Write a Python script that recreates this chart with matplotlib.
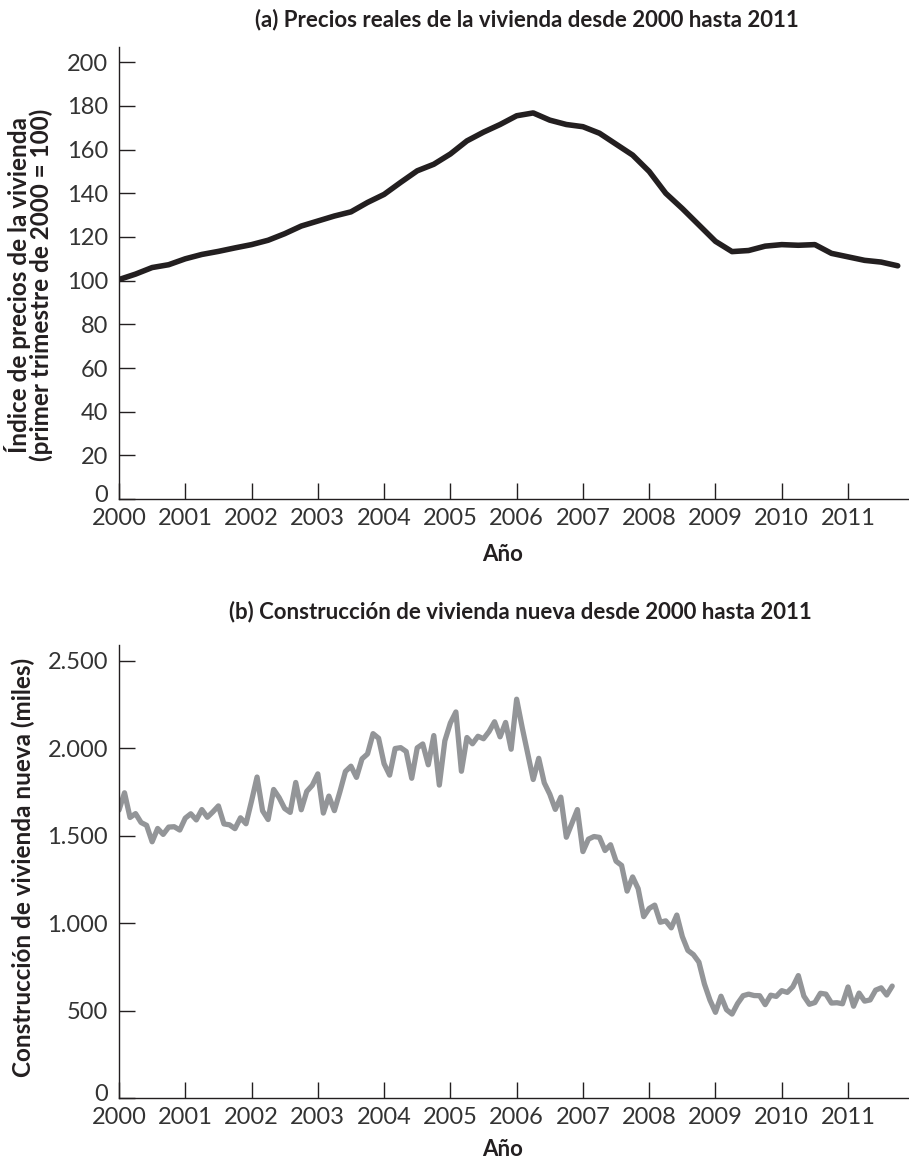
import matplotlib
matplotlib.use("Agg")
import matplotlib.pyplot as plt
import matplotlib.transforms as mtransforms
import numpy as np

# (a) indice real de precios de la vivienda, trimestral 2000T1 - 2011T4
precios = [100.5, 103, 106, 107.3, 110, 112, 113.4, 115, 116.5, 118.5,
           121.5, 125, 127.3, 129.6, 131.5, 135.8, 139.5, 145, 150.3, 153.3,
           158, 164, 168, 171.5, 175.5, 176.8, 173.5, 171.5, 170.5, 167.5,
           162.5, 157.5, 150, 140, 133, 125.5, 118, 113.3, 113.8, 115.8,
           116.5, 116.2, 116.5, 112.5, 110.9, 109.3, 108.5, 106.8]

# (b) construccion de vivienda nueva (miles), mensual ene 2000 - sep 2011
inicios = [1646, 1745, 1604, 1626, 1575, 1559, 1465, 1541, 1507, 1549, 1551, 1532,
           1600, 1625, 1590, 1649, 1605, 1636, 1670, 1567, 1562, 1540, 1602, 1568,
           1698, 1835, 1642, 1592, 1764, 1717, 1655, 1633, 1804, 1648, 1753, 1788,
           1853, 1629, 1726, 1643, 1751, 1867, 1897, 1833, 1939, 1967, 2083, 2057,
           1911, 1846, 1998, 2003, 1981, 1828, 2002, 2024, 1905, 2072, 1789, 2042,
           2144, 2207, 1868, 2061, 2025, 2068, 2054, 2095, 2151, 2065, 2147, 1994,
           2280, 2119, 1969, 1821, 1942, 1802, 1737, 1650, 1720, 1491, 1570, 1649,
           1409, 1480, 1495, 1490, 1415, 1448, 1354, 1330, 1183, 1264, 1197, 1037,
           1084, 1103, 1005, 1013, 973, 1046, 923, 844, 820, 777, 652, 560,
           490, 582, 505, 480, 540, 585, 594, 586, 585, 534, 588, 581,
           614, 604, 636, 700, 583, 536, 546, 599, 594, 543, 545, 539,
           635, 525, 600, 554, 561, 617, 630, 589, 640]

anios = list(range(2000, 2012))
ticks_a = [0, 20, 40, 60, 80, 100, 120, 140, 160, 180, 200]
ticks_b = [0, 500, 1000, 1500, 2000, 2500]
etiquetas_b = ["0", "500", "1.000", "1.500", "2.000", "2.500"]

t_precios = 2000 + np.arange(len(precios)) / 4.0
t_inicios = 2000 + np.arange(len(inicios)) / 12.0

tinta = "#231f20"
plt.rcParams["font.family"] = ["Lato", "DejaVu Sans"]

fig = plt.figure(figsize=(9.09, 11.6), dpi=100)
ax1 = fig.add_axes([0.1309, 0.5698, 0.8691, 0.3897])
ax2 = fig.add_axes([0.1309, 0.0534, 0.8691, 0.3906])

ax1.plot(t_precios, precios, color=tinta, lw=4.0, solid_capstyle="round")
ax2.plot(t_inicios, inicios, color="#939598", lw=3.8, solid_capstyle="round")

for ax in (ax1, ax2):
    ax.spines["top"].set_visible(False)
    ax.spines["right"].set_visible(False)
    for s in ("left", "bottom"):
        ax.spines[s].set_linewidth(1.0)
        ax.spines[s].set_color(tinta)
    ax.set_xlim(2000, 2011.92)
    ax.set_xticks(anios)
    ax.set_xticklabels([str(a) for a in anios])
    ax.tick_params(direction="in", length=11.5, width=1.0, color=tinta,
                   labelsize=17, labelcolor="#333333")
    ax.tick_params(axis="x", pad=6.5)
    ax.tick_params(axis="y", pad=8)

ax1.set_ylim(0, 207)
ax1.set_yticks(ticks_a)
ax2.set_ylim(0, 2590)
ax2.set_yticks(ticks_b)
ax2.set_yticklabels(etiquetas_b)

# el "0" queda justo encima del "2000", se sube un poco
for ax in (ax1, ax2):
    lab0 = ax.get_yticklabels()[0]
    lab0.set_transform(lab0.get_transform() +
                       mtransforms.ScaledTranslation(0, 4 / 72, fig.dpi_scale_trans))

ax1.set_ylabel("Índice de precios de la vivienda\n(primer trimestre de 2000 = 100)",
               fontsize=17.5, fontweight="bold", color=tinta, linespacing=0.95)
ax1.yaxis.set_label_coords(-0.083, 0.473)
ax2.set_ylabel("Construcción de vivienda nueva (miles)",
               fontsize=17.5, fontweight="bold", color=tinta)
ax2.yaxis.set_label_coords(-0.106, 0.508)

for ax, y in ((ax1, -0.1), (ax2, -0.09)):
    ax.set_xlabel("Año", fontsize=16, fontweight="bold", color=tinta)
    ax.xaxis.set_label_coords(0.485, y)

fig.text(527 / 909, 1 - 20 / 1160, "(a) Precios reales de la vivienda desde 2000 hasta 2011",
         ha="center", va="center", fontsize=16, fontweight="bold", color=tinta)
fig.text(520 / 909, 1 - 612 / 1160, "(b) Construcción de vivienda nueva desde 2000 hasta 2011",
         ha="center", va="center", fontsize=16, fontweight="bold", color=tinta)

fig.savefig("out.png", dpi=100)
